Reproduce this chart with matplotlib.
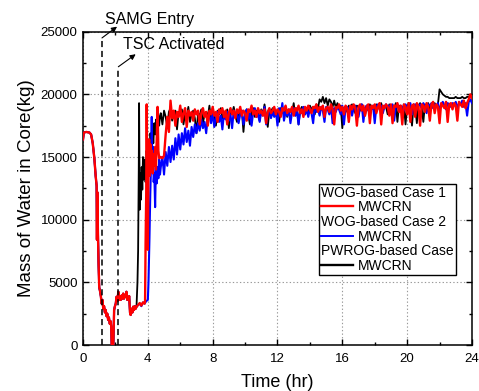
import numpy as np
import matplotlib
matplotlib.use('Agg')
import matplotlib.pyplot as plt
from matplotlib.lines import Line2D
from matplotlib.ticker import MultipleLocator

plt.rcParams['font.family'] = ['Liberation Sans', 'DejaVu Sans']

# common early transient (all three cases overlap here)
early_t = [0.0, 0.05, 0.2, 0.4, 0.5, 0.6, 0.7, 0.78, 0.84, 0.86, 0.88, 0.92, 0.96, 1.0,
           1.05, 1.1, 1.15, 1.2, 1.25, 1.3, 1.35, 1.4, 1.45, 1.5, 1.55, 1.6, 1.65, 1.7,
           1.74, 1.77, 1.87, 1.92, 1.97, 2.02, 2.07, 2.12, 2.18, 2.23, 2.28, 2.33, 2.38,
           2.43, 2.48, 2.53, 2.58, 2.63, 2.68, 2.73, 2.8, 2.85, 2.9, 2.94, 3.0, 3.05,
           3.1, 3.15, 3.2, 3.25, 3.3]
early_m = [16400, 16950, 17000, 16950, 16800, 16100, 14900, 13500, 12700, 8400, 12200,
           9000, 6500, 4600, 4300, 3900, 3300, 3600, 2900, 3100, 2600, 2800, 2300, 2500,
           2000, 2200, 1700, 1900, 1500, 0, 0, 2800, 3100, 3300, 3850, 3500, 4250, 3600,
           3900, 3600, 3950, 3700, 4100, 3700, 4000, 3850, 4250, 3600, 3700, 3900, 2600,
           2400, 2900, 2600, 3060, 2800, 3100, 2900, 3050]

# reflood transition of each case
black_mid_t = [3.36, 3.4, 3.44, 3.46, 3.5, 3.54, 3.58, 3.62, 3.66, 3.7, 3.74, 3.8, 3.86,
               3.92, 3.98, 4.04, 4.1, 4.16, 4.22, 4.28, 4.34, 4.4, 4.46, 4.52, 4.58, 4.64,
               4.7, 4.75]
black_mid_m = [5000, 7500, 14000, 19300, 10800, 13700, 11600, 14200, 12400, 15000, 13200,
               14800, 13000, 15500, 14200, 15550, 14200, 16900, 15550, 17400, 16100, 17700,
               16800, 18000, 16400, 18200, 17500, 18300]

red_mid_t = [3.4, 3.5, 3.6, 3.7, 3.8, 3.83, 3.86, 3.9, 3.93, 3.97, 4.0, 4.04, 4.08, 4.12,
             4.16, 4.2, 4.25, 4.3, 4.35, 4.4, 4.45, 4.5, 4.55, 4.6, 4.65, 4.7, 4.75]
red_mid_m = [3200, 3350, 3150, 3400, 3300, 3500, 8000, 12000, 19200, 12500, 7600, 14500,
             16400, 13500, 16000, 14000, 15500, 13700, 15200, 14300, 15800, 14000, 16500,
             19000, 15500, 14900, 15000]

blue_mid_t = [3.4, 3.5, 3.6, 3.7, 3.8, 3.9, 4.0, 4.04, 4.1, 4.15, 4.2, 4.24, 4.28, 4.32,
              4.36, 4.4, 4.45, 4.5, 4.55, 4.6, 4.65, 4.7, 4.75]
blue_mid_m = [3200, 3300, 3100, 3400, 3300, 3500, 3600, 5000, 8500, 12000, 14500, 18200,
              14000, 15800, 13000, 13700, 11000, 14500, 12900, 14200, 13300, 14800, 13600]

# long-term behaviour, sampled every 0.1 hr from 4.8 hr to 24 hr
black_late = [
    18500, 17600, 18700, 18200, 17400, 18600, 18900, 17900, 18400, 18700,
    17200, 18600, 18300, 18800, 17600, 18500, 18200, 19000, 17800, 18400,
    18700, 18100, 16900, 18500, 18300, 18800, 17700, 18400, 18600, 18200,
    19100, 17900, 18500, 18300, 17500, 18700, 18400, 18900, 18100, 18500,
    18200, 18800, 17300, 18600, 18400, 19000, 18300, 17800, 18600, 18400,
    18700, 17000, 18500, 18800, 18300, 17600, 18600, 18900, 18200, 18700,
    18500, 17900, 18800, 18400, 19200, 18300, 17400, 18700, 18600, 18900,
    18300, 18700, 18500, 17800, 18900, 18600, 18400, 19000, 18200, 18700,
    18800, 18500, 19300, 18300, 18900, 17600, 18700, 19000, 18600, 18400,
    18900, 18600, 19100, 18800, 19000, 18400, 19200, 18900, 19600, 19400,
    19800, 19300, 19700, 19100, 19600, 19400, 19000, 19500, 18900, 19300,
    18800, 19100, 17300, 18900, 19000, 18600, 19100, 18800, 19200, 18900,
    18500, 19100, 19000, 18700, 19200, 18900, 18300, 19100, 19000, 19200,
    18800, 19100, 18600, 19200, 19000, 18900, 19300, 18700, 19100, 19000,
    18400, 19200, 19000, 19100, 18800, 19300, 17800, 19100, 19000, 18600,
    19200, 17600, 19000, 19300, 18900, 17500, 19200, 19000, 17700, 19100,
    19300, 18900, 17800, 19200, 19000, 19300, 18700, 19200, 19100, 19300,
    19000, 19200, 20400, 20200, 20000, 19900, 19800, 19800, 19700, 19700,
    19700, 19700, 19800, 19700, 19700, 19700, 19800, 19700, 19700, 19800,
    19800, 19900, 19900]

red_late = [
    15000, 14900, 15100, 16800, 18200, 17000, 19500, 18100, 18700, 17500,
    18600, 18200, 19100, 17800, 18500, 18900, 17400, 18700, 18300, 18600,
    17900, 18800, 18400, 18700, 17600, 18500, 18900, 18200, 18600, 17500,
    18700, 18400, 19000, 18300, 18600, 17800, 18800, 18500, 18900, 18200,
    18700, 17600, 18500, 18900, 18400, 18700, 18100, 18800, 18500, 19000,
    18300, 18700, 18500, 17900, 18800, 18600, 19100, 18400, 18700, 18200,
    18900, 18500, 18700, 18300, 18800, 17700, 18600, 18900, 18500, 18700,
    19000, 18400, 18800, 18600, 18200, 18900, 18700, 19100, 18500, 18800,
    18600, 19000, 18300, 18900, 18700, 19100, 18500, 18800, 18200, 19000,
    18700, 19100, 18800, 18500, 19000, 18900, 19200, 18600, 19000, 18800,
    19100, 18200, 18900, 19000, 18600, 19200, 18800, 17600, 19000, 18900,
    19200, 18700, 19000, 18400, 19100, 18900, 17800, 19100, 18800, 19200,
    18900, 17500, 19000, 19200, 18700, 19100, 18300, 19000, 19200, 17700,
    19100, 18900, 19200, 18500, 19000, 19300, 17600, 19100, 18900, 19200,
    19000, 18300, 19200, 17700, 19100, 19000, 19300, 18600, 19100, 17600,
    19200, 19000, 18400, 19300, 17800, 19100, 19200, 18200, 19300, 19000,
    17500, 19200, 19100, 18600, 19300, 19000, 17900, 19200, 19400, 18500,
    19200, 19000, 17700, 19300, 19100, 18900, 19400, 17800, 19200, 19300,
    18800, 19300, 19100, 17900, 19400, 19200, 19000, 19500, 18900, 19300,
    19600, 20000, 19700]

blue_late = [
    14200, 15000, 13600, 15400, 14300, 15800, 14600, 15900, 14800, 16500,
    15200, 16800, 15600, 16900, 16000, 17300, 16200, 17100, 15900, 17400,
    16600, 17600, 16900, 17700, 17100, 18000, 17300, 17800, 16900, 18200,
    18300, 17700, 18500, 17400, 18100, 18600, 17800, 18300, 17200, 18500,
    18000, 18600, 17900, 18400, 17300, 18700, 18200, 18500, 17700, 18400,
    18700, 17600, 18300, 18800, 18000, 18500, 17500, 18600, 18900, 18200,
    18400, 17800, 18700, 18300, 19000, 17600, 18500, 18800, 18100, 18600,
    18200, 18700, 17500, 18900, 18400, 19300, 17900, 18600, 18300, 18800,
    17700, 18600, 18900, 18300, 18700, 17600, 18800, 18500, 19000, 18400,
    18800, 18200, 18900, 18500, 17700, 19000, 18600, 18800, 18300, 19000,
    18700, 17800, 19000, 18800, 18400, 19100, 17700, 18900, 18600, 19000,
    18800, 18400, 19100, 17600, 18900, 19000, 18700, 19100, 18300, 18900,
    19100, 18600, 18200, 19000, 19200, 17800, 18900, 19100, 18700, 19000,
    18800, 19100, 17700, 19000, 19200, 18800, 19100, 18500, 19000, 19200,
    18900, 19100, 18600, 19200, 17900, 19000, 19200, 18800, 19100, 19000,
    18700, 19200, 19000, 18900, 19300, 18400, 19100, 19200, 18800, 19100,
    19200, 18900, 19300, 19000, 18500, 19200, 19100, 19300, 18900, 19200,
    19000, 19300, 18700, 19200, 19400, 19100, 18800, 19300, 19200, 19000,
    19300, 19100, 19400, 18900, 19300, 19200, 19500, 19000, 19300, 18300,
    19400, 19600, 19300]

late_t = np.linspace(4.8, 24.0, len(black_late))

samg_t = 1.17
tsc_t = 2.18

series = {
    'black': (early_t + black_mid_t, early_m + black_mid_m, black_late, 1.3),
    'blue': (early_t + blue_mid_t, early_m + blue_mid_m, blue_late, 1.5),
    'red': (early_t + red_mid_t, early_m + red_mid_m, red_late, 1.7),
}

fig = plt.figure(figsize=(4.79, 3.91), dpi=100)
ax = fig.add_axes([0.1733, 0.1176, 0.812, 0.8014])

for color, (t1, m1, m2, lw) in series.items():
    t = np.concatenate([t1, late_t])
    m = np.concatenate([m1, m2])
    ax.plot(t, m, color=color, lw=lw, zorder=3)

# SAMG / TSC markers
ax.plot([samg_t, samg_t], [0, 24500], color='black', lw=1.1, ls=(0, (4, 2.5)), zorder=4)
ax.plot([tsc_t, tsc_t], [0, 22200], color='black', lw=1.1, ls=(0, (4, 2.5)), zorder=4)
arrow = dict(arrowstyle='-|>', color='black', lw=0.8, mutation_scale=8, shrinkA=0, shrinkB=0)
ax.annotate('', xy=(2.1, 25400), xytext=(samg_t, 24500), arrowprops=arrow,
            annotation_clip=False, zorder=5)
ax.annotate('', xy=(3.25, 23200), xytext=(tsc_t, 22200), arrowprops=arrow,
            annotation_clip=False, zorder=5)
ax.text(1.36, 25950, 'SAMG Entry', fontsize=11.5, va='center', ha='left', clip_on=False)
ax.text(2.45, 23950, 'TSC Activated', fontsize=11.5, va='center', ha='left')

ax.set_xlim(0, 24)
ax.set_ylim(0, 25000)
ax.xaxis.set_major_locator(MultipleLocator(4))
ax.xaxis.set_minor_locator(MultipleLocator(2))
ax.yaxis.set_major_locator(MultipleLocator(5000))
ax.yaxis.set_minor_locator(MultipleLocator(2500))
ax.tick_params(which='both', direction='in', top=True, right=True, width=1.0)
ax.tick_params(which='major', length=4.5, labelsize=9.5)
ax.tick_params(axis='x', which='major', pad=6)
ax.tick_params(axis='y', which='major', pad=4)
ax.tick_params(which='minor', length=2.5)
for sp in ax.spines.values():
    sp.set_linewidth(1.1)
ax.grid(True, which='major', color='#999999', ls=(0, (1.2, 2)), lw=0.8)
ax.set_axisbelow(True)

ax.set_xlabel('Time (hr)', fontsize=13, labelpad=6)
ax.set_ylabel('Mass of Water in Core(kg)', fontsize=13.5, labelpad=4)

blank = Line2D([], [], color='none')
handles = [blank, Line2D([], [], color='red', lw=1.7),
           blank, Line2D([], [], color='blue', lw=1.4),
           blank, Line2D([], [], color='black', lw=1.7)]
labels = ['WOG-based Case 1', 'MWCRN', 'WOG-based Case 2', 'MWCRN',
          'PWROG-based Case', 'MWCRN']
leg = ax.legend(handles, labels, loc='lower right', bbox_to_anchor=(0.959, 0.223),
                borderaxespad=0, fontsize=10, fancybox=False, framealpha=1,
                edgecolor='black', labelspacing=0.05, borderpad=0.15,
                handlelength=2.3, handletextpad=0.35)
leg.get_frame().set_linewidth(1.0)
leg.set_zorder(10)
rows = [hp for col in leg._legend_handle_box.get_children() for hp in col.get_children()]
for i in (0, 2, 4):
    da = rows[i].get_children()[0]
    da.width = 0
    rows[i].sep = 0

fig.savefig('out.png', dpi=100)
